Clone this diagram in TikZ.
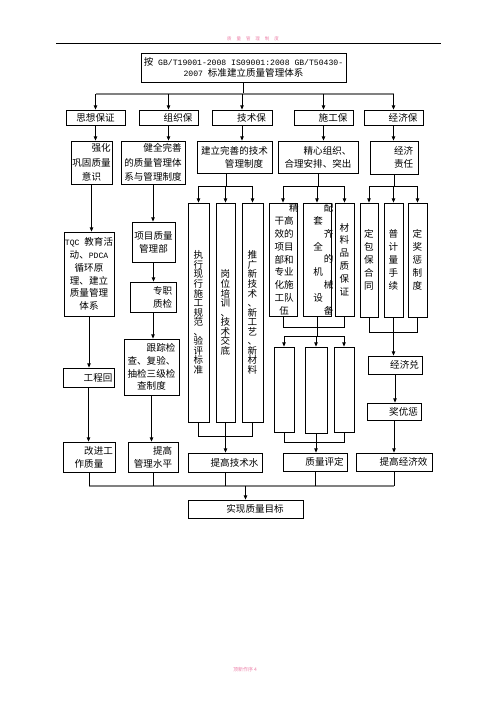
\documentclass[tikz,border=0pt]{standalone}
\usepackage{fontspec}
\setmainfont{Noto Sans CJK SC}
\newfontfamily\lat{Liberation Mono}[Scale=0.85]
\usetikzlibrary{arrows.meta}
\newcommand{\pxu}{0.4234mm}
\newcommand{\zw}{\fontsize{11.5pt}{15.5pt}\selectfont}
\newcommand{\kg}{\hspace*{2em}}
\definecolor{yemei}{RGB}{236,128,168}

\begin{document}
\begin{tikzpicture}[
    x=\pxu, y=-\pxu,
    kuang/.style={draw, line width=0.9pt, inner sep=0pt, align=center, font=\zw},
    sz/.style 2 args={minimum width=#1*\pxu, minimum height=#2*\pxu},
    shu/.style={font=\fontsize{11.5pt}{11.5pt}\selectfont},
    kuan/.style={font=\fontsize{11.5pt}{17.4pt}\selectfont},
    zuo/.style={text width=2em, align=left},
    lian/.style={line width=0.9pt},
    jian/.style={lian, -{Triangle[length=5pt,width=4pt]}},
    zong/.style={line width=1.8pt, black!50}
  ]
  \useasboundingbox (0,0) rectangle (496,702);
  \draw[line width=0.6pt] (56,43) -- (441,43);
  \node[text=yemei, font=\fontsize{5.4pt}{6pt}\selectfont] (ym) at (253,38.5)
    {质\hspace{1.1em}量\hspace{1.1em}管\hspace{1.1em}理\hspace{1.1em}制\hspace{1.1em}度};
  \node[text=yemei, font=\fontsize{6pt}{7pt}\selectfont] (yj) at (245,670) {顶新作序 4};

  \node[kuang, sz={205}{29}, font=\fontsize{11.5pt}{13.5pt}\selectfont] (top) at (243.5,67.5)
    {按{\lat{} GB/T19001-2008 IS09001:2008 GB/T50430-}\\{\lat 2007 }标准建立质量管理体系};

  \node[kuang, sz={59}{15}] (sx) at (95.5,117.5)  {思想保证};
  \node[kuang, sz={59}{15}] (zz) at (168.5,117.5) {\kg{}组织保};
  \node[kuang, sz={60}{15}] (js) at (242,117.5)   {\kg{}技术保};
  \node[kuang, sz={59}{15}] (sg) at (323.5,117.5) {\kg{}施工保};
  \node[kuang, sz={59}{15}] (jj) at (393.5,117.5) {\kg{}经济保};

  \node[kuang, kuan, sz={41}{43}] (qh) at (91.5,162.5) {\kg{}强化\\巩固质量\\意识};
  \node[kuang, kuan, sz={64}{43}] (jq) at (153,162.5)  {\kg{}健全完善\\的质量管理体\\系与管理制度};
  \node[kuang, sz={75}{32}] (jl) at (234.5,157) {建立完善的技术\\\kg{}管理制度};
  \node[kuang, sz={80}{32}] (jx) at (318,157)   {\kg{}精心组织、\\合理安排、突出};
  \node[kuang, sz={48}{33}] (jz) at (394,157.5) {\kg{}经济\\\kg{}责任};

  \node[kuang, sz={50}{84}] (tqc) at (89,274)
    {{\lat TQC }教育活\\动、{\lat PDCA}\\循环原\\理、建立\\质量管理\\体系};
  \node[kuang, sz={51}{19}] (gc) at (88.5,377.5) {\kg{}工程回};
  \node[kuang, sz={52}{30}] (gj) at (89,457)     {\kg{}改进工\\作质量};

  \node[kuang, sz={43}{40}] (xm) at (153.5,242) {项目质量\\管理部};
  \node[kuang, sz={46}{30}] (zj) at (153,297)   {\kg{}专职\\\kg{}质检};
  \node[kuang, sz={55}{56}] (gz) at (151.5,367) {\kg{}跟踪检\\查、复验、\\抽检三级检\\查制度};
  \node[kuang, sz={50}{30}] (tg) at (153,457)   {\kg{}提高\\管理水平};

  \node[kuang, shu, sz={21}{219}] (t1) at (198.5,312.5)
    {执\\行\\现\\行\\施\\工\\规\\范\\、\\验\\评\\标\\准};
  \node[kuang, shu, sz={19}{219}] (t2) at (225.5,312.5)
    {岗\\位\\培\\训\\、\\技\\术\\交\\底};
  \node[kuang, shu, sz={21}{219}] (t3) at (252.5,312.5)
    {推\\广\\新\\技\\术\\、\\新\\工\\艺\\、\\新\\材\\料};
  \node[kuang, sz={74}{19}] (js2) at (225,462.5) {\kg{}提高技术水};

  \node[kuang, zuo, sz={28}{113}] (s1) at (283,259.5)
    {\hspace*{1.5em}精\\干高\\效的\\项目\\部和\\专业\\化施\\工队\\\hspace*{0.5em}伍};
  \node[kuang, zuo, sz={28}{113}] (s2) at (317,259.5)
    {\hspace*{1.6em}配\\\hspace*{0.5em}套\\\hspace*{1.6em}齐\\\hspace*{0.5em}全\\\hspace*{1.6em}的\\\hspace*{0.5em}机\\\hspace*{1.6em}械\\\hspace*{0.5em}设\\\hspace*{1.6em}备};
  \node[kuang, sz={19}{113}] (s3) at (344.5,259.5) {材\\料\\品\\质\\保\\证};
  \node[kuang, sz={20}{85}] (e1) at (284,389.5) {};
  \node[kuang, sz={22}{86}] (e2) at (316,390)   {};
  \node[kuang, sz={20}{85}] (e3) at (344,389.5) {};
  \node[kuang, sz={64}{18}] (zp) at (315,462) {\kg{}质量评定};

  \node[kuang, sz={18}{114}] (d1) at (369,260)   {定\\包\\保\\合\\同};
  \node[kuang, sz={19}{114}] (d2) at (393.5,260) {普\\计\\量\\手\\续};
  \node[kuang, sz={19}{114}] (d3) at (417.5,260) {定\\奖\\惩\\制\\度};
  \node[kuang, sz={54}{18}] (dx) at (395,365)   {\kg{}经济兑};
  \node[kuang, sz={54}{17}] (jy) at (394,411.5) {\kg{}奖优惩};
  \node[kuang, sz={76}{18}] (tj) at (394,462)   {\kg{}提高经济效};

  \node[kuang, sz={115}{18}] (mb) at (245.5,509) {\kg{}实现质量目标};

  \coordinate (z1) at (243,94);
  \draw[lian] (top) -- (top|-z1);
  \draw[zong] (sx|-z1) -- (jj|-z1);
  \foreach \n in {sx,zz,js,sg,jj} \draw[jian] (\n|-z1) -- (\n);

  \draw[jian] (sx) -- (sx|-qh.north);
  \draw[jian] (zz) -- (zz|-jq.north);
  \draw[jian] (js) -- (js|-jl.north);
  \draw[jian] (sg) -- (sg|-jx.north);
  \draw[jian] (jj) -- (jj|-jz.north);

  \draw[jian] (qh) -- (qh|-tqc.north);
  \draw[jian] (tqc) -- (tqc|-gc.north);
  \draw[jian] (gc) -- (gc|-gj.north);

  \draw[jian] (jq) -- (jq|-xm.north);
  \draw[jian] (xm) -- (xm|-zj.north);
  \draw[jian] (zj) -- (zj|-gz.north);
  \draw[jian] (gz) -- (gz|-tg.north);

  \coordinate (j1) at (226,186);
  \draw[lian] (jl.south-|j1) -- (j1);
  \draw[lian] (t1|-j1) -- (t3|-j1);
  \foreach \n in {t1,t2,t3} \draw[jian] (\n|-j1) -- (\n);
  \coordinate (j2) at (226,436);
  \draw[lian] (t1) -- (t1|-j2) -- (t3|-j2) -- (t3);
  \draw[jian] (t2) -- (t2|-js2.north);

  \coordinate (s0) at (318,186);
  \draw[lian] (jx.south-|s0) -- (s0);
  \draw[lian] (s1|-s0) -- (s3|-s0);
  \foreach \n in {s1,s2,s3} \draw[jian] (\n|-s0) -- (\n);
  \coordinate (s4) at (317,327);
  \draw[lian] (s1) -- (s1|-s4) -- (s3|-s4) -- (s3);
  \coordinate (s5) at (317,336);
  \draw[lian] (s2) -- (s5);
  \draw[lian] (e1|-s5) -- (e3|-s5);
  \foreach \n in {e1,e2,e3} \draw[jian] (\n|-s5) -- (\n);
  \coordinate (s6) at (316,442);
  \draw[lian] (e1) -- (e1|-s6) -- (e3|-s6) -- (e3);
  \draw[jian] (e2) -- (e2|-zp.north);

  \coordinate (d0) at (394,186);
  \draw[lian] (jz) -- (d0);
  \draw[lian] (d1|-d0) -- (d3|-d0);
  \foreach \n in {d1,d2,d3} \draw[jian] (\n|-d0) -- (\n);
  \coordinate (d4) at (394,332);
  \draw[lian] (d1) -- (d1|-d4) -- (d3|-d4) -- (d3);
  \draw[jian] (d2) -- (d2|-dx.north);
  \draw[jian] (dx) -- (dx|-jy.north);
  \draw[jian] (jy) -- (jy|-tj.north);

  \coordinate (m0) at (245,486);
  \draw[zong] (gj|-m0) -- (tj|-m0);
  \foreach \n in {gj,tg,js2,zp,tj} \draw[lian] (\n) -- (\n|-m0);
  \draw[jian] (mb|-m0) -- (mb);
\end{tikzpicture}
\end{document}
